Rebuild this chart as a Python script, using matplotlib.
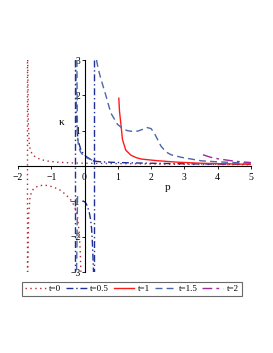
import matplotlib
matplotlib.use('Agg')
import matplotlib.pyplot as plt

# t=0 (dotted): asymptote line, upper branch, lower branch
t0_vert_x = [-1.72, -1.72]
t0_vert_y = [-3.0, 3.0]
t0_up_x = [-1.71, -1.69, -1.66, -1.62, -1.55, -1.45, -1.3, -1.1, -0.8, -0.4, 0.0, 1.0, 2.0, 3.0, 4.0, 5.0]
t0_up_y = [3.0, 1.2, 0.6, 0.42, 0.31, 0.24, 0.18, 0.14, 0.11, 0.09, 0.08, 0.07, 0.06, 0.05, 0.045, 0.04]
t0_lo_x = [-1.71, -1.68, -1.64, -1.58, -1.5, -1.38, -1.24, -1.1, -0.92, -0.75, -0.57, -0.42, -0.3, -0.21, -0.16, -0.13, -0.11]
t0_lo_y = [-3.0, -1.4, -0.88, -0.7, -0.61, -0.56, -0.54, -0.55, -0.6, -0.67, -0.8, -0.95, -1.13, -1.45, -1.9, -2.4, -3.0]

# t=0.5 (dash-dot)
t05_vl_x = [-0.28, -0.28]
t05_vl_y = [3.0, -3.0]
t05_vr_x = [0.29, 0.29]
t05_vr_y = [3.0, -3.0]
t05_mid_x = [-0.27, -0.25, -0.2, -0.1, 0.05, 0.2, 0.29]
t05_mid_y = [3.0, 1.4, 0.75, 0.42, 0.27, 0.18, 0.14]
t05_right_x = [0.29, 0.5, 1.0, 1.5, 2.0, 3.0, 4.0, 5.0]
t05_right_y = [0.14, 0.12, 0.1, 0.09, 0.08, 0.065, 0.055, 0.05]
t05_lo_x = [-0.06, 0.02, 0.08, 0.14, 0.18, 0.21, 0.23, 0.25, 0.27]
t05_lo_y = [-0.98, -1.02, -1.12, -1.3, -1.5, -1.75, -2.05, -2.5, -3.0]

# t=1 (solid)
t1_x = [1.03, 1.05, 1.09, 1.14, 1.24, 1.39, 1.55, 1.7, 1.9, 2.1, 2.5, 2.8, 3.5, 4.0, 4.5, 5.0]
t1_y = [1.92, 1.55, 1.21, 0.75, 0.45, 0.31, 0.24, 0.2, 0.18, 0.16, 0.13, 0.11, 0.08, 0.07, 0.06, 0.05]

# t=1.5 (dashed)
t15_left_x = [-0.23, -0.22, -0.21, -0.18, -0.12, -0.04, 0.05, 0.2, 0.35]
t15_left_y = [3.0, 1.6, 0.85, 0.55, 0.4, 0.3, 0.24, 0.18, 0.15]
t15_lo_x = [-0.21, -0.22, -0.23, -0.24]
t15_lo_y = [-0.85, -1.5, -2.3, -3.0]
t15_up_x = [0.36, 0.4, 0.48, 0.64, 0.79, 0.99, 1.15, 1.29, 1.45, 1.6, 1.75, 1.88, 2.0, 2.1, 2.2, 2.3, 2.45, 2.6, 2.9, 3.2, 3.5, 4.0, 4.5, 5.0]
t15_up_y = [3.0, 2.8, 2.5, 2.0, 1.5, 1.18, 1.06, 1.0, 0.98, 0.99, 1.04, 1.09, 1.06, 0.93, 0.74, 0.56, 0.4, 0.32, 0.25, 0.2, 0.15, 0.12, 0.1, 0.08]

# t=2 (long dash)
t2_x = [3.56, 3.75, 3.92, 4.2, 4.42, 4.7, 5.0]
t2_y = [0.32, 0.26, 0.22, 0.18, 0.15, 0.12, 0.1]

plt.rcParams['font.family'] = ['Liberation Serif', 'DejaVu Serif']

fig = plt.figure(figsize=(2.73, 3.53), dpi=100)
ax = fig.add_axes([0.066, 0.229, 0.853, 0.601])

c0 = '#b02a3a'
c05 = '#1f2f9a'
c1 = '#ff1a1a'
c15 = '#4a68a6'
c2 = '#9a2a9e'
lw = 1.0

dot = (0, (1, 2.5))
dashdot = (0, (5, 2, 1, 2))
dash = (0, (5, 3))
longdash = (0, (7, 3, 2, 3))

ax.plot(t0_vert_x, t0_vert_y, color=c0, lw=lw, ls=dot, label='t=0')
ax.plot(t0_up_x, t0_up_y, color=c0, lw=lw, ls=dot)
ax.plot(t0_lo_x, t0_lo_y, color=c0, lw=lw, ls=dot)

ax.plot(t05_vl_x, t05_vl_y, color=c05, lw=lw, ls=dashdot, label='t=0.5')
ax.plot(t05_vr_x, t05_vr_y, color=c05, lw=lw, ls=dashdot)
ax.plot(t05_mid_x, t05_mid_y, color=c05, lw=lw, ls=dashdot)
ax.plot(t05_right_x, t05_right_y, color=c05, lw=lw, ls=dashdot)
ax.plot(t05_lo_x, t05_lo_y, color=c05, lw=lw, ls=dashdot)

ax.plot(t1_x, t1_y, color=c1, lw=lw, ls='-', label='t=1')

ax.plot(t15_up_x, t15_up_y, color=c15, lw=lw, ls=dash, label='t=1.5')
ax.plot(t15_left_x, t15_left_y, color=c15, lw=lw, ls=dash)
ax.plot(t15_lo_x, t15_lo_y, color=c15, lw=lw, ls=dash)

ax.plot(t2_x, t2_y, color=c2, lw=lw, ls=longdash, label='t=2')

ax.set_xlim(-2, 5)
ax.set_ylim(-3, 3)
ax.spines['left'].set_position('zero')
ax.spines['bottom'].set_position('zero')
ax.spines['top'].set_visible(False)
ax.spines['right'].set_visible(False)
for s in ('left', 'bottom'):
    ax.spines[s].set_linewidth(0.8)

ax.set_xticks([-2, -1, 0, 1, 2, 3, 4, 5])
ax.set_xticklabels(['\u22122', '\u22121', '0', '1', '2', '3', '4', '5'])
ax.set_yticks([-3, -2, -1, 1, 2, 3])
ax.set_yticklabels(['\u22123', '\u22122', '\u22121', '1', '2', '3'])
ax.tick_params(axis='x', labelsize=7, length=2, width=0.6, pad=3, direction='out')
ax.tick_params(axis='y', labelsize=7, length=2, width=0.6, pad=1, direction='out')

ax.text(2.5, -0.6, 'p', fontsize=8, ha='center', va='center')
ax.text(-0.68, 1.22, '\u03ba', fontsize=8, ha='center', va='center')

ax.patch.set_visible(False)

leg = fig.legend(loc='center', bbox_to_anchor=(0.483, 0.181), ncol=5, fontsize=6.5,
                 frameon=True, fancybox=False, handlelength=2.3, handletextpad=0.4,
                 columnspacing=0.5, borderpad=0.3, borderaxespad=0)
leg.get_frame().set_edgecolor('#444444')
leg.get_frame().set_linewidth(0.8)

fig.savefig('out.png', dpi=100)
